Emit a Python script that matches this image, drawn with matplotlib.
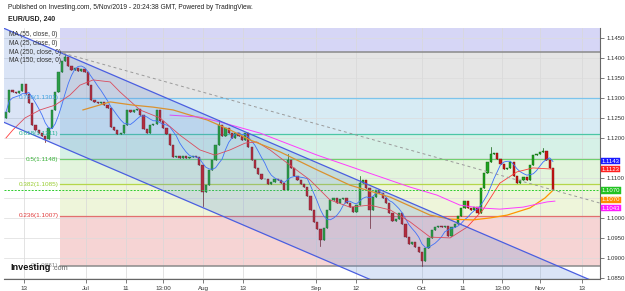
import matplotlib
matplotlib.use('Agg')
import matplotlib.pyplot as plt
import matplotlib.transforms as mtransforms
from matplotlib.patches import Rectangle, Polygon
import numpy as np
import pandas as pd

plt.rcParams['font.family'] = ['Liberation Sans', 'DejaVu Sans']

# ---------------- data ----------------
closes = [
    1.1266, 1.1321, 1.1316, 1.1313, 1.1318, 1.1336, 1.1311, 1.1288, 1.1233, 1.1221,
    1.1213, 1.1206, 1.1198, 1.1226, 1.1271, 1.1316, 1.1366, 1.1393, 1.1403, 1.1381,
    1.1371, 1.1376, 1.1368, 1.1373, 1.1366, 1.1333, 1.1296, 1.1291, 1.1288, 1.1291,
    1.1283, 1.1276, 1.1228, 1.1221, 1.1211, 1.1213, 1.1233, 1.1271, 1.1266, 1.1271,
    1.1273, 1.1258, 1.1223, 1.1213, 1.1233, 1.1236, 1.1271, 1.1243, 1.1226, 1.1211,
    1.1183, 1.1153, 1.1156, 1.1151, 1.1156, 1.1151, 1.1153, 1.1156, 1.1153, 1.1133,
    1.1066, 1.1083, 1.1121, 1.1146, 1.1183, 1.1233, 1.1206, 1.1226, 1.1213, 1.1201,
    1.1213, 1.1206, 1.1196, 1.1213, 1.1178, 1.1146, 1.1126, 1.1111, 1.1098, 1.1098,
    1.1086, 1.1091, 1.1098, 1.1096, 1.1088, 1.1071, 1.1146, 1.1126, 1.1106, 1.1096,
    1.1086, 1.1078, 1.1056, 1.1021, 1.0991, 1.0973, 1.0946, 1.0976, 1.1021, 1.1046,
    1.1051, 1.1038, 1.1048, 1.1051, 1.1038, 1.1028, 1.1016, 1.1033, 1.1088, 1.1096,
    1.1076, 1.1021, 1.1053, 1.1071, 1.1063, 1.1051, 1.1038, 1.1013, 1.0993, 1.0998,
    1.1013, 1.0986, 1.0953, 1.0936, 1.0941, 1.0928, 1.0916, 1.0893, 1.0926, 1.0951,
    1.0971, 1.0978, 1.0981, 1.0978, 1.0981, 1.0956, 1.0978, 1.0986, 1.1006, 1.1026,
    1.1043, 1.1026, 1.1021, 1.1028, 1.1013, 1.1076, 1.1113, 1.1141, 1.1161, 1.1163,
    1.1148, 1.1136, 1.1123, 1.1126, 1.1141, 1.1106, 1.1088, 1.1096, 1.1103, 1.1096,
    1.1133, 1.1158, 1.1161, 1.1166, 1.1168, 1.1146, 1.1126, 1.1070,
]
first_open = 1.1250
wick_high = {18: 1.1412, 65: 1.1245, 86: 1.1160, 108: 1.1105, 148: 1.1178, 164: 1.1176}
wick_low = {12: 1.1190, 60: 1.1030, 96: 1.0930, 111: 1.0975, 127: 1.0880}

ma25_window = 7

ma55_x = [0, 2.1, 5.8, 10.4, 15.0, 19.5, 22.6, 26.6, 31.8, 34.8, 40.9, 47.0, 53.1, 59.2,
          63.8, 68.4, 73.0, 76.6, 80.6, 86.7, 92.8, 98.9, 105.0, 111.1, 117.3, 123.4,
          129.5, 135.6, 140.8, 145.6, 150.8, 156.0, 160.9, 167.0]
ma55_y = [1.1201, 1.1221, 1.1251, 1.1271, 1.1283, 1.1308, 1.1333, 1.1346, 1.1341, 1.1316,
          1.1271, 1.1251, 1.1208, 1.1171, 1.1158, 1.1171, 1.1188, 1.1191, 1.1171, 1.1133,
          1.1096, 1.1046, 1.1028, 1.1033, 1.1021, 1.0991, 1.0953, 1.0951, 1.0978, 1.1021,
          1.1088, 1.1116, 1.1126, 1.1123]

ma150_x = [23.5, 31.8, 38.8, 44.9, 51.0, 56.2, 61.4, 68.4, 74.5, 83.7, 95.0, 105.0, 117.3,
           129.5, 135.6, 142.6, 147.8, 153.0, 160.0, 164.6, 167.0]
ma150_y = [1.1271, 1.1291, 1.1283, 1.1278, 1.1271, 1.1258, 1.1246, 1.1221, 1.1196, 1.1166,
           1.1121, 1.1083, 1.1053, 1.1008, 1.0998, 1.0996, 1.1001, 1.1008, 1.1026, 1.1051,
           1.1070]

ma250_x = [50.1, 59.2, 65.3, 77.6, 95.0, 108.1, 123.4, 131.6, 138.6, 144.7, 150.8, 157.9,
           165.2, 167.6]
ma250_y = [1.1258, 1.1253, 1.1241, 1.1213, 1.1158, 1.1121, 1.1078, 1.1058, 1.1033, 1.1026,
           1.1023, 1.1028, 1.1041, 1.1043]

fib_ratios = [0, 0.236, 0.382, 0.5, 0.618, 0.786, 1]
fib_prices = [1.0881, 1.1007, 1.1085, 1.1148, 1.1211, 1.1301, 1.1415]
fib_start = 16.5

chan_x0, chan_p0 = -0.9, 1.1476
chan_x1, chan_p1 = 177.8, 1.0848
chan_width = 0.0235

dash_x0, dash_p0 = 17.4, 1.1413
dash_x1, dash_p1 = 181.4, 1.1038

xtick_pos = [5.5, 24.4, 36.6, 47.9, 60.2, 72.4, 94.7, 106.9, 127.0, 139.5, 151.5, 163.1, 175.9]
xtick_labels = ['13', 'Jul', '11', '13:00', 'Aug', '13', 'Sep', '12', 'Oct', '11', '13:00', 'Nov', '13']

ytick_vals = [1.0850, 1.0900, 1.0950, 1.1000, 1.1050, 1.1100, 1.1150, 1.1200, 1.1250,
              1.1300, 1.1350, 1.1400, 1.1450]
# labels hidden behind the price tags in the reference
ytick_hidden = [1.1050, 1.1150]

tag_labels = ['1.1143', '1.1123', '1.1070', '1.1070', '1.1043']
tag_values = [1.1143, 1.1123, 1.1070, 1.1070, 1.1043]
tag_colors = ['#1a1aff', '#ff2020', '#22c322', '#ff8c00', '#ff1aff']
tag_shift_px = [0, 0, 0, -9.5, -7]

legend_labels = ['MA (55, close, 0)', 'MA (25, close, 0)', 'MA (250, close, 0)', 'MA (150, close, 0)']

# ---------------- figure ----------------
W, H = 625, 291
fig = plt.figure(figsize=(W / 100, H / 100), dpi=100)
ax = fig.add_axes([4 / W, (H - 279) / H, 596 / W, 251 / H])
xmin, xmax = -0.61, 181.37
ymin, ymax = 1.08483, 1.14758
ax.set_xlim(xmin, xmax)
ax.set_ylim(ymin, ymax)

# fib zones
zone_colors = ['#f6d4d4', '#eef5da', '#e2f4dc', '#d6f1e7', '#d7ebf4', '#e5e5e5']
line_colors = ['#8a8a8a', '#e07070', '#b5d64a', '#6fd06f', '#4cc6a6', '#7cc4ec', '#8a8a8a']
label_colors = ['#888888', '#e03a3a', '#9acd32', '#3cb43c', '#22b192', '#3a9fe0', '#888888']
for k in range(len(fib_prices) - 1):
    ax.fill_between([fib_start, xmax], fib_prices[k], fib_prices[k + 1],
                    color=zone_colors[k], lw=0, zorder=1)
ax.fill_between([fib_start, xmax], fib_prices[-1], ymax, color='#d6d6f6', lw=0, zorder=1)

# grid
for xp in xtick_pos:
    ax.axvline(xp, color='#d8d8d8', lw=0.5, zorder=1.5)
for yv in ytick_vals:
    ax.axhline(yv, color='#dcdcdc', lw=0.5, zorder=1.5)

for k, (r, p) in enumerate(zip(fib_ratios, fib_prices)):
    lw = 1.1 if r in (0, 1) else 0.9
    ax.plot([fib_start, xmax], [p, p], color=line_colors[k], lw=lw, zorder=2)
    if r == 1:
        continue
    txt = ('%g(%.4f)' % (r, p))
    ax.text(fib_start - 0.4, p, txt, ha='right', va='center', fontsize=4.6,
            color=label_colors[k], zorder=6)

# candles
opens = [first_open] + closes[:-1]
for i, (o, c) in enumerate(zip(opens, closes)):
    up = c >= o
    fc = '#1fa31f' if up else '#cc1414'
    ec = '#0b5e0b' if up else '#6e0a0a'
    hi = wick_high.get(i, max(o, c))
    lo = wick_low.get(i, min(o, c))
    ax.plot([i, i], [lo, hi], color=ec, lw=0.5, zorder=3)
    h = max(abs(c - o), 0.00008)
    ax.add_patch(Rectangle((i - 0.34, min(o, c)), 0.68, h, facecolor=fc, edgecolor=ec,
                           lw=0.3, zorder=3.2))

# moving averages
idx = np.arange(len(closes))
ma25 = pd.Series(closes).rolling(ma25_window, min_periods=1).mean()
ax.plot(idx, ma25, color='#3b6cff', lw=0.6, zorder=4)
ax.plot(ma55_x, ma55_y, color='#ff3b3b', lw=0.6, zorder=4)
ax.plot(ma150_x, ma150_y, color='#ff9500', lw=0.9, zorder=4)
ax.plot(ma250_x, ma250_y, color='#ff3bff', lw=0.7, zorder=4)

# last price line
ax.axhline(closes[-1], color='#2ecc2e', lw=0.7, ls=(0, (2, 1.5)), zorder=4.5)

# channel
slope = (chan_p1 - chan_p0) / (chan_x1 - chan_x0)
xs = np.array([chan_x0, xmax])
upper = chan_p0 + slope * (xs - chan_x0)
lower = upper - chan_width
ax.add_patch(Polygon([[xs[0], upper[0]], [xs[1], upper[1]], [xs[1], lower[1]], [xs[0], lower[0]]],
                     closed=True, facecolor='#5a88d8', alpha=0.22, lw=0, zorder=5))
ax.plot(xs, upper, color='#4a5ee0', lw=0.9, zorder=5.5)
ax.plot(xs, lower, color='#4a5ee0', lw=0.9, zorder=5.5)

# dashed trend line
ds = (dash_p1 - dash_p0) / (dash_x1 - dash_x0)
ax.plot([dash_x0, xmax], [dash_p0, dash_p0 + ds * (xmax - dash_x0)], color='#9a9a9a',
        lw=0.7, ls=(0, (3, 3)), zorder=5.5)

# axes styling
for s in ['top', 'left']:
    ax.spines[s].set_visible(False)
for s in ['bottom', 'right']:
    ax.spines[s].set_color('#666666')
    ax.spines[s].set_linewidth(0.8)
ax.yaxis.tick_right()
ax.set_yticks(ytick_vals)
ax.set_yticklabels(['' if v in ytick_hidden else '%.4f' % v for v in ytick_vals])
ax.set_xticks(xtick_pos)
ax.set_xticklabels(xtick_labels)
ax.tick_params(axis='y', length=3, width=0.6, color='#666666', labelsize=4.3,
               labelcolor='#333333', pad=1.5)
ax.tick_params(axis='x', length=3, width=0.6, color='#666666', labelsize=4.5,
               labelcolor='#333333', pad=2)
ax.set_facecolor('white')

# price tags on the right axis
blend = mtransforms.blended_transform_factory(ax.transAxes, ax.transData)
for lab, val, col, sh in zip(tag_labels, tag_values, tag_colors, tag_shift_px):
    ax.annotate(lab, xy=(1.0, val), xycoords=blend, xytext=(1.2, sh * 0.72),
                textcoords='offset points', ha='left', va='center', fontsize=4.3,
                color='white', annotation_clip=False, zorder=10,
                bbox=dict(boxstyle='square,pad=0.12', fc=col, ec=col, lw=0.3))

# header texts
fig.text(8 / W, 1 - 7.5 / H,
         'Published on Investing.com, 5/Nov/2019 - 20:24:38 GMT, Powered by TradingView.',
         fontsize=4.8, color='#222222', va='center', ha='left')
fig.text(8 / W, 1 - 19 / H, 'EUR/USD, 240', fontsize=5.0, color='#222222',
         va='center', ha='left', weight='bold')
for k, lab in enumerate(legend_labels):
    fig.text(9 / W, 1 - (35 + 8.5 * k) / H, lab, fontsize=4.7, color='#333333',
             va='center', ha='left', zorder=20)

# Investing.com logo
fig.text(10 / W, 1 - 267 / H, 'Investing', fontsize=6.6, weight='bold', color='#111111',
         va='center', ha='left', zorder=20)
fig.text(52.5 / W, 1 - 268 / H, '.com', fontsize=5.2, color='#666666',
         va='center', ha='left', zorder=20)

fig.savefig('out.png', dpi=100, facecolor='white')
